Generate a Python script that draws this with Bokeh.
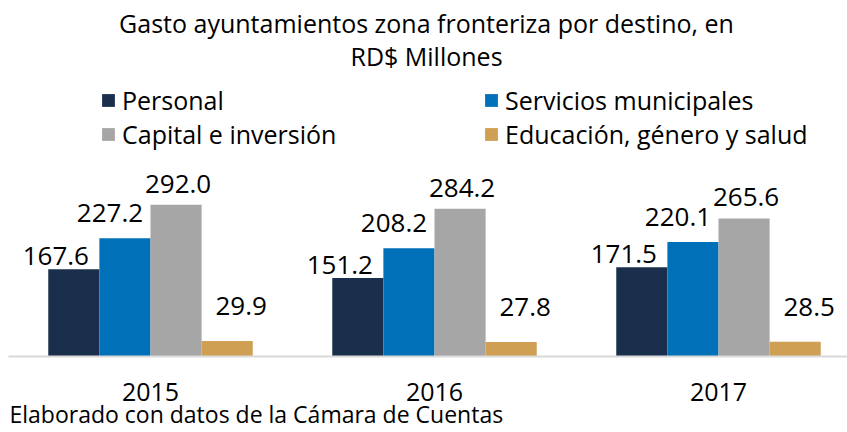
from bokeh.plotting import figure
from bokeh.models import ColumnDataSource, Range1d, FixedTicker, Label, Legend, LegendItem
from bokeh.embed import file_html
from bokeh.resources import INLINE
from bokeh.core.properties import value
from bokeh.transform import dodge

# ---- data ----
years = ["2015", "2016", "2017"]
personal = [167.6, 151.2, 171.5]
servicios = [227.2, 208.2, 220.1]
capital = [292.0, 284.2, 265.6]
educacion = [29.9, 27.8, 28.5]
series_names = ["Personal", "Servicios municipales", "Capital e inversión",
                "Educación, género y salud"]
title_lines = ["Gasto ayuntamientos zona fronteriza por destino, en", "RD$ Millones"]
source_note = "Elaborado con datos de la Cámara de Cuentas"

# ---- style ----
FONT = "Open Sans"
TXT = "#000000"
colors = ["#1a2f4b", "#0071b9", "#a6a6a6", "#cf9f54"]
offsets = [-0.27, -0.09, 0.09, 0.27]
bar_w = 0.18
lab_dx = [-18, -15, 2, 14]
lab_dy = [-13, -25, -21, -35]

W, H = 847, 432
PX_X = 284.0     # pixels per category
PX_Y = 0.52      # pixels per RD$ million
X0, Y0 = 150, 356  # screen position of the first category / baseline
p = figure(width=W, height=H, output_backend="svg", toolbar_location=None,
           title=None,
           x_range=Range1d(-X0 / PX_X, (W - X0) / PX_X),
           y_range=Range1d(-(H - Y0) / PX_Y, Y0 / PX_Y),
           y_axis_location=None,
           min_border_left=0, min_border_right=0,
           min_border_top=0, min_border_bottom=0)
p.outline_line_color = None
p.grid.visible = False
p.background_fill_color = "white"
p.border_fill_color = "white"

idx = list(range(len(years)))
keys = ["personal", "servicios", "capital", "educacion"]
vals = [personal, servicios, capital, educacion]
data = dict(x=idx, year=years)
for k, v in zip(keys, vals):
    data[k] = v
    data[k + "_lab"] = [f"{a:.1f}" for a in v]
src = ColumnDataSource(data)

renderers = []
for i, k in enumerate(keys):
    r = p.vbar(x=dodge("x", offsets[i]), top=k, bottom=0, width=bar_w, source=src,
               fill_color=colors[i], line_color=None)
    renderers.append(r)
    p.text(x=dodge("x", offsets[i]), y=k, text=k + "_lab", source=src,
           x_offset=lab_dx[i], y_offset=lab_dy[i],
           text_font=value(FONT), text_font_size="26px", text_color=TXT,
           text_align="center", text_baseline="middle")

# axis (drawn at the baseline inside the frame)
ax = p.xaxis[0]
ax.fixed_location = 0
ax.bounds = (-(X0 - 8) / PX_X, (W - X0) / PX_X)
ax.ticker = FixedTicker(ticks=idx)
ax.major_label_overrides = {i: y for i, y in enumerate(years)}
ax.major_tick_line_color = None
ax.minor_tick_line_color = None
ax.axis_line_color = "#d9d9d9"
ax.axis_line_width = 2
ax.major_label_standoff = 20
ax.major_label_text_font = FONT
ax.major_label_text_font_size = "25px"
ax.major_label_text_color = TXT

# legends (two columns)
def make_legend(items, x, y):
    leg = Legend(items=items, location=(x, y), orientation="vertical",
                 padding=0, margin=0, border_line_color=None,
                 background_fill_alpha=0, glyph_width=16, glyph_height=16,
                 label_standoff=6, spacing=-4, label_height=28,
                 label_text_font=FONT, label_text_font_size="25px",
                 label_text_color=TXT)
    p.add_layout(leg)

make_legend([LegendItem(label=series_names[0], renderers=[renderers[0]]),
             LegendItem(label=series_names[2], renderers=[renderers[2]])], 100, 281)
make_legend([LegendItem(label=series_names[1], renderers=[renderers[1]]),
             LegendItem(label=series_names[3], renderers=[renderers[3]])], 483, 281)

# titles & note
for line, yy in zip(title_lines, [H - 22, H - 55]):
    p.add_layout(Label(x=426, y=yy, x_units="screen", y_units="screen", text=line,
                       text_align="center", text_baseline="middle",
                       text_font=FONT, text_font_size="25px", text_color=TXT))
p.add_layout(Label(x=9, y=H - 413, x_units="screen", y_units="screen", text=source_note,
                   text_align="left", text_baseline="middle",
                   text_font=FONT, text_font_size="23px", text_color=TXT))

open("out.html", "w").write(file_html(p, INLINE))
